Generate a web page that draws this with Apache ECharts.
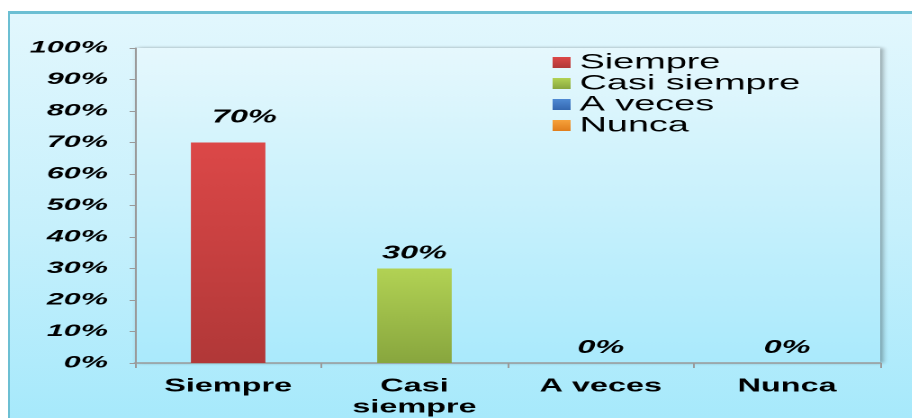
<!DOCTYPE html>
<html>
<head>
<meta charset="utf-8">
<script src="https://cdn.jsdelivr.net/npm/echarts@6/dist/echarts.min.js"></script>
<style>
  html, body { margin: 0; padding: 0; width: 912px; height: 418px; overflow: hidden; background: #ffffff; }
  #bg { position: absolute; left: 8px; top: 11px; width: 920px; height: 430px;
        border-left: 2px solid #6cbfd3; border-top: 3px solid #6cbfd3;
        background: linear-gradient(to bottom, #e2f7fd 0%, #c6f0fc 50%, #a2e8fb 100%); }
  #c { position: absolute; left: 0; top: 0; width: 507px; height: 418px;
       transform: scaleX(1.8); transform-origin: 0 0; }
</style>
</head>
<body>
<div id="bg"></div>
<div id="c"></div>
<script>
// ---- data ----
const categories = ['Siempre', 'Casi\nsiempre', 'A veces', 'Nunca'];
const seriesNames = ['Siempre', 'Casi siempre', 'A veces', 'Nunca'];
const siempre     = [70, null, null, null];
const casiSiempre = [null, 30, null, null];
const aVeces      = [null, null, 0, null];
const nunca       = [null, null, null, 0];
const yTickLabels = ['0%', '10%', '20%', '30%', '40%', '50%', '60%', '70%', '80%', '90%', '100%'];

// ---- styles ----
function grad(top, bottom) {
  return new echarts.graphic.LinearGradient(0, 0, 0, 1, [
    { offset: 0, color: top }, { offset: 1, color: bottom }
  ]);
}
const styles = [
  { color: grad('#dc4848', '#b13838'), offset: [9, 0], distance: 16 },
  { color: grad('#b2d254', '#88a63e'), offset: [0, 0], distance: 6 },
  { color: grad('#4f8ad4', '#3468b0'), offset: [0, 0], distance: 6 },
  { color: grad('#f6a23c', '#e07e1c'), offset: [0, 0], distance: 6 }
];
const seriesData = [siempre, casiSiempre, aVeces, nunca];

const chart = echarts.init(document.getElementById('c'), null, { renderer: 'canvas', devicePixelRatio: 2 });

const series = seriesData.map((d, i) => ({
  name: seriesNames[i],
  type: 'bar',
  stack: 'total',
  data: d,
  barWidth: '40%',
  itemStyle: { color: styles[i].color, borderWidth: 0 },
  label: {
    show: true,
    position: 'top',
    distance: styles[i].distance,
    offset: styles[i].offset,
    formatter: p => (p.value === null || p.value === undefined) ? '' : p.value + '%',
    fontFamily: 'Liberation Sans',
    fontWeight: 'bold',
    fontStyle: 'italic',
    fontSize: 18,
    color: '#000'
  }
}));

chart.setOption({
  animation: false,
  backgroundColor: 'transparent',
  grid: {
    left: 75, right: 18, top: 48, bottom: 55,
    show: true,
    borderWidth: 0,
    backgroundColor: grad('#e6f8fd', '#aaeafc'),
    shadowColor: 'rgba(0,0,0,0.35)',
    shadowBlur: 3,
    shadowOffsetX: 1.5,
    shadowOffsetY: 0
  },
  legend: {
    orient: 'vertical',
    left: 302,
    top: 47,
    itemWidth: 10,
    itemHeight: 11,
    itemGap: 0,
    icon: 'rect',
    data: seriesNames,
    textStyle: { fontFamily: 'Liberation Sans', fontSize: 21, color: '#000', lineHeight: 20 }
  },
  xAxis: {
    type: 'category',
    data: categories,
    axisLine: { lineStyle: { color: '#9a9a9a', width: 1.5 } },
    axisTick: { show: true, length: 5, lineStyle: { color: '#9a9a9a' } },
    axisLabel: {
      margin: 13,
      fontFamily: 'Liberation Sans',
      fontWeight: 'bold',
      fontSize: 18,
      lineHeight: 21,
      color: '#000'
    }
  },
  yAxis: {
    type: 'value',
    min: 0,
    max: 100,
    interval: 10,
    axisLine: { show: true, lineStyle: { color: '#9a9a9a', width: 1 } },
    axisTick: { show: true, length: 3, lineStyle: { color: '#9a9a9a' } },
    splitLine: { show: false },
    axisLabel: {
      margin: 15,
      formatter: v => yTickLabels[Math.round(v / 10)],
      fontFamily: 'Liberation Sans',
      fontWeight: 'bold',
      fontStyle: 'italic',
      fontSize: 17,
      color: '#000'
    }
  },
  series: series
});
</script>
</body>
</html>
